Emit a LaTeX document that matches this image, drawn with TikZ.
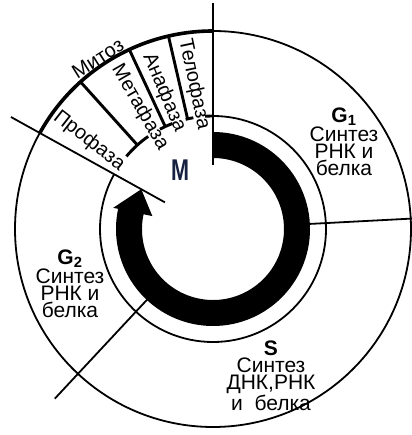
\documentclass[tikz,border=0pt]{standalone}
\usepackage{fontspec}
\setmainfont{Liberation Sans}
\usepackage{xcolor}
\usepackage{tikz}
\usetikzlibrary{calc}
\definecolor{darknavy}{RGB}{22,32,64}

\begin{document}
\begin{tikzpicture}[
  x=1pt,y=1pt,
  thinline/.style={line width=1.8pt},
  boldline/.style={line width=2.9pt},
  phase/.style={font=\fontsize{21}{17}\selectfont,align=center,inner sep=0pt,anchor=north},
  subphase/.style={font=\fontsize{20}{17}\selectfont,inner sep=0pt}
]
\useasboundingbox (-213,-206) rectangle (198,229);
\fill (90:97) arc (90:-192:97) -- (168:102) -- (151:82) -- (168:62) -- (168:71) arc (-192:90:71) -- cycle;
\draw[thinline] (0,0) circle (198);
\draw[boldline,line width=3.6pt] (90:198) arc (90:151:198);
\draw[thinline] (90:113) arc (90:-209:113);
\foreach \a/\b in {125/140,111/118,100/104,90/94}
  \draw[boldline] (\a:113) arc (\a:\b:113);
\draw[thinline] (90:64) -- (90:226);
\draw[thinline] (3:97) -- (3:200);
\draw[thinline] (227:95) -- (227:232);
\draw[thinline] (151:55) -- (151:231);
\foreach \a in {132,115,103}
  \draw[boldline] (\a:113) -- (\a:198);
\node[phase] (g1) at (131,121) {\textbf{G\textsubscript{1}}\\Синтез\\РНК и\\белка};
\node[phase] (g2) at (-143,-21) {\textbf{G\textsubscript{2}}\\Синтез\\РНК и\\белка};
\node[phase] (s) at (58,-112) {\textbf{S}\\Синтез\\ДНК,РНК\\и\ \ белка};
\node[font=\bfseries\fontsize{30}{30}\selectfont,text=darknavy,xscale=0.72] (m) at (-33,59) {M};
\node[subphase,rotate=-38] (pro) at (144.6:152) {Профаза};
\node[subphase,rotate=-60] (meta) at (121:142) {Метафаза};
\node[subphase,rotate=-67] (ana) at (109.7:145) {Анафаза};
\node[subphase,rotate=-78] (telo) at (97.5:146) {Телофаза};
\node[subphase,rotate=32] (mitoz) at (124:206) {Митоз};
\end{tikzpicture}
\end{document}
